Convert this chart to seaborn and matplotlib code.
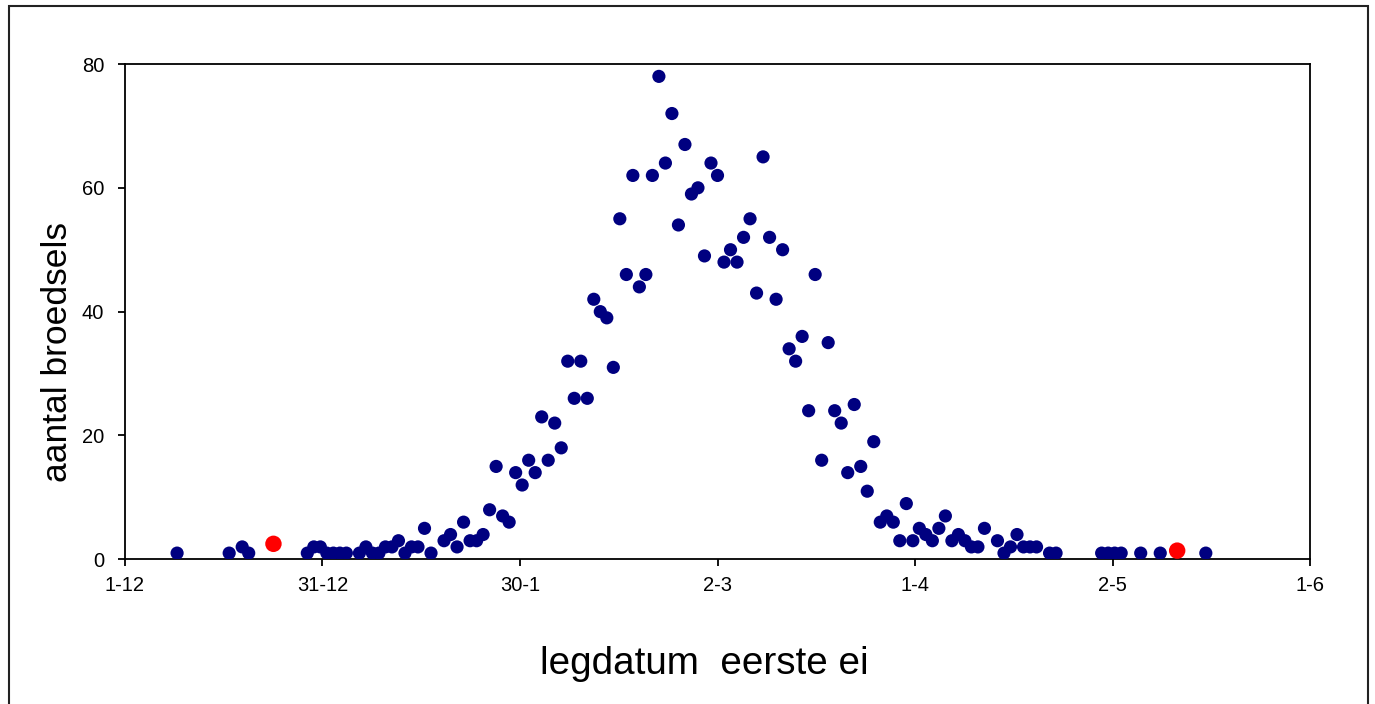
import matplotlib
matplotlib.use("Agg")
import matplotlib.pyplot as plt
import matplotlib.patches as mpatches
import seaborn as sns
import pandas as pd
import numpy as np

# days counted from 1 December, number of clutches per laying date
days = [8, 16, 18, 19, 28, 29, 30, 31, 32, 33, 34, 36, 37, 38, 39, 40, 41, 42, 43, 44,
        45, 46, 47, 49, 50, 51, 52, 53, 54, 55, 56, 57, 58, 59, 60, 61, 62, 63, 64, 65,
        66, 67, 68, 69, 70, 71, 72, 73, 74, 75, 76, 77, 78, 79, 80, 81, 82, 83, 84, 85,
        86, 87, 88, 89, 90, 91, 92, 93, 94, 95, 96, 97, 98, 99, 100, 101, 102, 103, 104, 105,
        106, 107, 108, 109, 110, 111, 112, 113, 114, 115, 116, 117, 118, 119, 120, 121, 122, 123, 124, 125,
        126, 127, 128, 129, 130, 131, 132, 134, 135, 136, 137, 138, 139, 140, 142, 143, 150, 151, 152, 153,
        156, 159, 166]
counts = [1, 1, 2, 1, 1, 2, 2, 1, 1, 1, 1, 1, 2, 1, 1, 2, 2, 3, 1, 2,
          2, 5, 1, 3, 4, 2, 6, 3, 3, 4, 8, 15, 7, 6, 14, 12, 16, 14, 23, 16,
          22, 18, 32, 26, 32, 26, 42, 40, 39, 31, 55, 46, 62, 44, 46, 62, 78, 64, 72, 54,
          67, 59, 60, 49, 64, 62, 48, 50, 48, 52, 55, 43, 65, 52, 42, 50, 34, 32, 36, 24,
          46, 16, 35, 24, 22, 14, 25, 15, 11, 19, 6, 7, 6, 3, 9, 3, 5, 4, 3, 5,
          7, 3, 4, 3, 2, 2, 5, 3, 1, 2, 4, 2, 2, 2, 1, 1, 1, 1, 1, 1,
          1, 1, 1]

# highlighted (red) points
red_days = [22.8, 161.6]
red_counts = [2.5, 1.4]

tick_days = [0, 30.33, 60.67, 91, 121.33, 151.67, 182]
tick_labels = ["1-12", "31-12", "30-1", "2-3", "1-4", "2-5", "1-6"]

df = pd.DataFrame({"dag": days, "aantal": counts})
df_red = pd.DataFrame({"dag": red_days, "aantal": red_counts})

sns.set_style("ticks")
plt.rcParams["font.family"] = ["Liberation Sans", "DejaVu Sans"]

fig = plt.figure(figsize=(13.75, 7.04), dpi=100)
ax = fig.add_axes([125 / 1375, 1 - 559.3 / 704, 1185 / 1375, 495.3 / 704])

sns.scatterplot(data=df, x="dag", y="aantal", ax=ax, color="#000080",
                s=90, edgecolor="none", legend=False, zorder=3)
sns.scatterplot(data=df_red, x="dag", y="aantal", ax=ax, color="#ff0000",
                s=140, edgecolor="none", legend=False, zorder=4)

ax.set_xlim(0, 182)
ax.set_ylim(0, 80)
ax.set_xticks(tick_days)
ax.set_xticklabels(tick_labels)
ax.set_yticks([0, 20, 40, 60, 80])

for side in ["left", "right", "top", "bottom"]:
    ax.spines[side].set_visible(True)
    ax.spines[side].set_color("black")
    ax.spines[side].set_linewidth(1.3)

ax.tick_params(axis="both", direction="out", length=5, width=1.3,
               labelsize=14.5, colors="black", labelcolor="black")
ax.tick_params(axis="y", pad=10)
ax.tick_params(axis="x", pad=7)

ax.set_xlabel("legdatum  eerste ei", fontsize=27.8, color="black")
ax.set_ylabel("aantal broedsels", fontsize=25.5, color="black")
ax.xaxis.set_label_coords(0.489, -0.175)
ax.yaxis.set_label_coords(-0.043, 0.4185)

# outer frame round the whole chart
frame = mpatches.Rectangle((9 / 1375, -0.02), 1359 / 1375, (704 - 6) / 704 + 0.02,
                           transform=fig.transFigure, fill=False,
                           edgecolor="#222222", linewidth=1.5, clip_on=False)
fig.patches.append(frame)

fig.savefig("out.png", dpi=100)
